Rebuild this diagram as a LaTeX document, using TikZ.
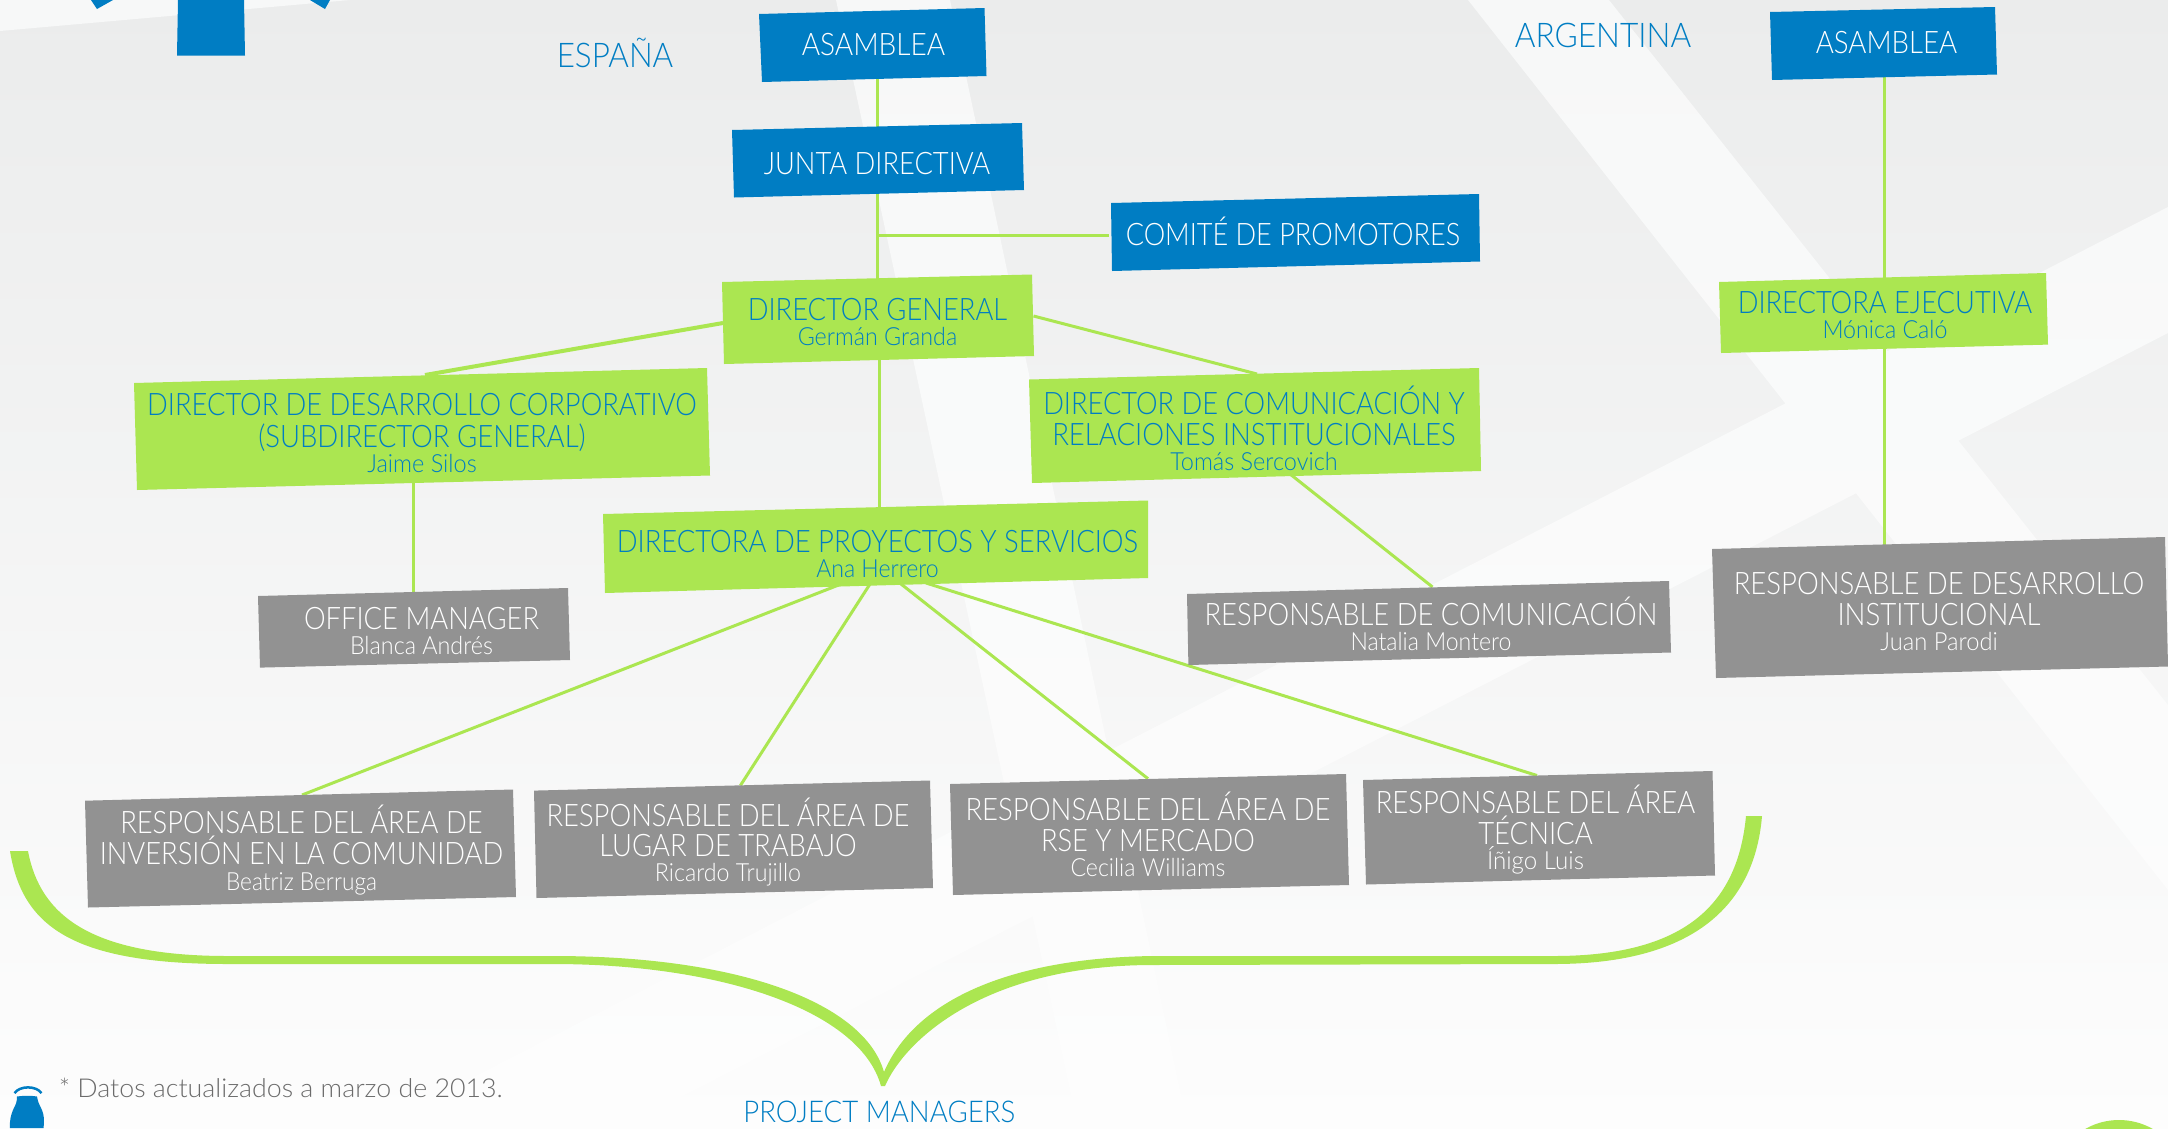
\documentclass[tikz,border=0pt]{standalone}
\usepackage{fontspec}
\usepackage{graphicx}
\setmainfont{Lato Light}
\pgfdeclarelayer{bgl}
\pgfdeclarelayer{conn}
\pgfsetlayers{bgl,conn,main}
\definecolor{cblue}{HTML}{007DC3}
\definecolor{cgreen}{HTML}{ABE651}
\definecolor{cgrey}{HTML}{929292}
\definecolor{bgA}{HTML}{EBECEC}
\definecolor{bgB}{HTML}{F3F4F4}
\definecolor{bgC}{HTML}{FDFDFD}
\definecolor{bandA}{HTML}{F7F8F8}
\definecolor{bandB}{HTML}{F8F9F9}
\definecolor{bandC}{HTML}{FDFDFD}
\definecolor{ctext}{HTML}{6B6B6B}
\newsavebox{\fitbox}
\newcommand\fitw[2]{\sbox{\fitbox}{#2}\pgfmathsetmacro\xsc{(#1+2.5)/\the\wd\fitbox}\scalebox{\xsc}[1]{\usebox{\fitbox}}}
% one text line: font size, width, distance from previous baseline, text
\newcommand\TL[4]{\vskip#3pt\hbox to\hsize{\hss\smash{\fontsize{#1}{#1}\selectfont\fitw{#2}{#4}}\hss}}
% name, text colour, cx, top, W, H, lines
\newcommand\orgtext[7]{\node[orgnode,text=#2] (#1) at (#3,#4) {\vbox to #6pt{\hsize=#5pt\offinterlineskip #7\vss}};}
\tikzset{
  orgnode/.style={anchor=north,inner sep=0pt,outer sep=0pt},
  link/.style={draw=cgreen,line width=3pt},
  linkb/.style={draw=cgreen,line width=4pt},
  heading/.style={anchor=base,inner sep=0pt,text=cblue},
}
\begin{document}
\begin{tikzpicture}[x=1pt,y=-1pt]
\useasboundingbox (0,0) rectangle (2168,1128);
\clip (0,0) rectangle (2168,1128);
% background
\begin{pgfonlayer}{bgl}
\shade[top color=bgA,middle color=bgB,bottom color=bgC] (0,0) rectangle (2168,1128);
\begin{scope}
\clip
  (836,0)--(950,0)--(1188,1128)--(1078,1128)--cycle
  (1468,0)--(1609,0)--(2168,705)--(2168,890)--cycle
  (2168,207)--(2168,333)--(0,1447)--(0,1320)--cycle
  (0,0)--(350,0)--(0,31)--cycle;
\shade[top color=bandA,middle color=bandB,bottom color=bandC] (0,0) rectangle (2168,1128);
\end{scope}
\end{pgfonlayer}
% logo fragments
\fill[cblue] (178,0)--(244,0)--(245,55.5)--(177,55.5)--cycle;
\fill[cblue] (91,0)--(113,0)--(97,9)--cycle;
\fill[cblue] (310,0)--(330,0)--(325,9)--cycle;
% bottle
\fill[cblue] (17,1096.5) .. controls (24,1095.5) and (31,1095.5) .. (37,1096.5) .. controls (38,1102) and (39,1104) .. (42,1110) .. controls (44,1115) and (44.5,1120) .. (43.5,1128) -- (10,1128) .. controls (9.5,1120) and (11,1115) .. (13,1110) .. controls (16,1104) and (17,1102) .. (17,1096.5) -- cycle;
\draw[cblue,line width=2.5pt] (14.5,1093) .. controls (20,1085.5) and (36,1085.5) .. (41.5,1093);
% green disc at the bottom right
\fill[cgreen] (2119,1188) circle (68);
% brace
\fill[cgreen] (10,851) .. controls (22,925) and (70,964) .. (228,964) -- (553,964)
  .. controls (720,964) and (860,1010) .. (881,1086) -- (885,1086)
  .. controls (905,1040) and (985,965) .. (1153,965) -- (1554,964)
  .. controls (1700,964) and (1755,900) .. (1762,816) -- (1746,816)
  .. controls (1738,900) and (1690,956) .. (1554,956) -- (1153,956)
  .. controls (1010,958) and (915,1000) .. (884,1072)
  .. controls (865,1005) and (745,956) .. (553,956) -- (228,956)
  .. controls (90,956) and (40,915) .. (28,851) -- cycle;
% box shapes
\fill[cblue] (759,14)--(984.5,8)--(986.5,76)--(762,82)--cycle;
\fill[cblue] (732,130)--(1022,123)--(1024,190)--(734,197.5)--cycle;
\fill[cblue] (1111,203)--(1479,194)--(1480,261.5)--(1112,271)--cycle;
\fill[cblue] (1770,12)--(1995,7)--(1997,74.5)--(1772,80)--cycle;
\fill[cgreen] (722,282)--(1032,274.5)--(1034,356)--(724,364)--cycle;
\fill[cgreen] (134,383)--(707,368)--(710,475.5)--(137,490)--cycle;
\fill[cgreen] (1029,379.5)--(1479,368)--(1481,471)--(1032,483)--cycle;
\fill[cgreen] (603,514)--(1148,500.5)--(1148,578)--(605,593)--cycle;
\fill[cgreen] (1719,282)--(2046,273)--(2048,344.6)--(1721,353)--cycle;
\fill[cgrey] (1712,549)--(2165,537)--(2168,666.5)--(1716,678)--cycle;
\fill[cgrey] (258,596)--(568,588)--(570,660)--(260,667.6)--cycle;
\fill[cgrey] (1187,594)--(1669,581)--(1671,652.5)--(1188.4,665)--cycle;
\fill[cgrey] (85,800.7)--(513,789.5)--(516,897)--(88,907.5)--cycle;
\fill[cgrey] (534,790.6)--(930,780.5)--(933,888)--(536.5,898)--cycle;
\fill[cgrey] (950,784)--(1346,774)--(1349,885)--(953,895)--cycle;
\fill[cgrey] (1363,780)--(1712.5,771)--(1715,875.5)--(1366,884.5)--cycle;
% texts
\orgtext{asmE}{white}{873.5}{8}{226}{74}{\TL{31}{141}{47}{ASAMBLEA}}
\orgtext{jd}{white}{877}{123}{290}{74}{\TL{31}{224}{51.3}{JUNTA DIRECTIVA}}
\orgtext{cp}{white}{1293}{194}{368}{77}{\TL{31}{332}{51.3}{COMITÉ DE PROMOTORES}}
\orgtext{dg}{cblue}{877.5}{274.5}{311}{89.5}{\TL{31}{257}{46}{DIRECTOR GENERAL}\TL{25}{157}{25}{Germán Granda}}
\orgtext{dev}{cblue}{422}{368}{575}{122}{\TL{31}{547}{47.3}{DIRECTOR DE DESARROLLO CORPORATIVO}\TL{31}{325}{32}{(SUBDIRECTOR GENERAL)}\TL{25}{107}{25}{Jaime Silos}}
\orgtext{dcom}{cblue}{1254}{368}{450}{115}{\TL{31}{419}{46.6}{DIRECTOR DE COMUNICACIÓN Y}\TL{31}{401}{30.4}{RELACIONES INSTITUCIONALES}\TL{25}{165}{25}{Tomás Sercovich}}
\orgtext{proy}{cblue}{877.5}{500}{545}{93}{\TL{31}{519}{52}{DIRECTORA DE PROYECTOS Y SERVICIOS}\TL{25}{120}{25}{Ana Herrero}}
\orgtext{asmA}{white}{1886.5}{7}{226}{73}{\TL{31}{139}{46.3}{ASAMBLEA}}
\orgtext{de}{cblue}{1885}{273}{328}{80}{\TL{31}{292}{40}{DIRECTORA EJECUTIVA}\TL{25}{122.5}{25}{Mónica Caló}}
\orgtext{rd}{white}{1939}{537}{455}{141}{\TL{31}{408}{57.5}{RESPONSABLE DE DESARROLLO}\TL{31}{200.5}{31}{INSTITUCIONAL}\TL{25}{115}{25}{Juan Parodi}}
\orgtext{om}{white}{421.5}{588}{312}{80}{\TL{31}{232.5}{41.5}{OFFICE MANAGER}\TL{25}{140.5}{25}{Blanca Andrés}}
\orgtext{rc}{white}{1431}{581}{484}{84}{\TL{31}{450.4}{44.4}{RESPONSABLE DE COMUNICACIÓN}\TL{25}{158.5}{25}{Natalia Montero}}
\orgtext{inv}{white}{301.5}{789.5}{431}{118}{\TL{31}{360}{44.3}{RESPONSABLE DEL ÁREA DE}\TL{31}{401}{31}{INVERSIÓN EN LA COMUNIDAD}\TL{25}{148.4}{25.5}{Beatriz Berruga}}
\orgtext{lug}{white}{728}{780.5}{399}{117.5}{\TL{31}{360.4}{45.5}{RESPONSABLE DEL ÁREA DE}\TL{31}{255}{30.5}{LUGAR DE TRABAJO}\TL{25}{143.6}{25}{Ricardo Trujillo}}
\orgtext{rse}{white}{1148}{774}{399}{121}{\TL{31}{362.5}{46.5}{RESPONSABLE DEL ÁREA DE}\TL{31}{211.4}{31.3}{RSE Y MERCADO}\TL{25}{152.4}{24.3}{Cecilia Williams}}
\orgtext{tec}{white}{1535.5}{771}{352}{113.5}{\TL{31}{317}{42.5}{RESPONSABLE DEL ÁREA}\TL{31}{112}{31.3}{TÉCNICA}\TL{25}{94.5}{25}{Íñigo Luis}}
\node[heading] (esp) at (615,67) {\fontsize{34}{34}\selectfont\fitw{114}{ESPAÑA}};
\node[heading] (arg) at (1603,47.5) {\fontsize{34}{34}\selectfont\fitw{174}{ARGENTINA}};
\node[heading] (pm) at (879.3,1122.5) {\fontsize{30}{30}\selectfont\fitw{269.4}{PROJECT MANAGERS}};
\node[anchor=base,inner sep=0pt,text=ctext] (note) at (280.8,1097) {\fontsize{26}{26}\selectfont\fitw{441.6}{* Datos actualizados a marzo de 2013.}};
% connectors
\begin{pgfonlayer}{conn}
\draw[link] ([shift={(3.5,66)}]asmE.north) -- ([shift={(0,5)}]jd.north);
\path ([shift={(0,60)}]jd.north) -- ([shift={(-.5,5.5)}]dg.north) coordinate[pos=.546] (jd1);
\draw[link] ([shift={(0,60)}]jd.north) -- ([shift={(-.5,5.5)}]dg.north);
\draw[link] (jd1) -- (jd1 -| cp.west);
\draw[linkb] ([shift={(-154.5,48.5)}]dg.north) -- ([shift={(3,7)}]dev.north);
\draw[link] ([shift={(156,41.5)}]dg.north) -- ([shift={(3,6)}]dcom.north);
\draw[link] ([shift={(1.5,80)}]dg.north) -- ([shift={(1.5,12)}]proy.north);
\draw[link] ([shift={(-9,110)}]dev.north) -- ([shift={(-8.5,5)}]om.north);
\draw[link] ([shift={(36,106)}]dcom.north) -- ([shift={(1.5,6)}]rc.north);
\draw[link] ([shift={(-2.5,70)}]asmA.north) -- ([shift={(-1,8)}]de.north);
\draw[link] ([shift={(-1,75)}]de.north) -- ([shift={(-55,15)}]rd.north);
\draw[link] ([shift={(-38.9,85)}]proy.north) -- ([shift={(.5,5.5)}]inv.north);
\draw[link] ([shift={(-7.5,84)}]proy.north) -- ([shift={(12.4,5)}]lug.north);
\draw[link] ([shift={(23.5,84)}]proy.north) -- ([shift={(0,4.7)}]rse.north);
\draw[link] ([shift={(48.5,83)}]proy.north) -- ([shift={(1.5,4.5)}]tec.north);
\end{pgfonlayer}
\end{tikzpicture}
\end{document}
